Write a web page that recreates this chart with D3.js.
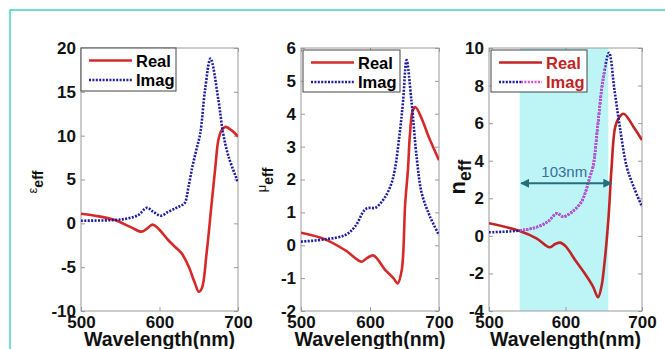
<!DOCTYPE html>
<html>
<head>
<meta charset="utf-8">
<script src="https://d3js.org/d3.v7.min.js"></script>
<style>
body { margin: 0; background: #fff; }
svg text { font-family: "Liberation Sans", Arial, sans-serif; }
</style>
</head>
<body>
<div id="chart"></div>
<script>
// values (wavelength in nm)
var xTicks = [500, 600, 700];

var epsRealNm = [500, 518, 543, 564, 577, 584, 591, 598, 611, 620, 628, 637, 645, 650, 654, 660, 666, 671, 675, 679, 684, 692, 700];
var epsReal   = [1.1, 0.87, 0.38, -0.46, -0.95, -0.6, -0.15, -0.55, -1.9, -2.7, -3.4, -4.9, -6.8, -7.8, -7.4, -3.4, 1.9, 6.3, 9.5, 10.6, 11.0, 10.6, 9.9];
var epsImagNm = [500, 543, 560, 573, 584, 592, 602, 611, 620, 626, 632, 637, 642, 647, 652, 658, 665, 675, 681, 688, 700];
var epsImag   = [0.3, 0.38, 0.57, 0.95, 1.78, 1.32, 0.87, 1.32, 1.7, 1.97, 2.3, 4.2, 6.5, 8.4, 10.3, 15.2, 18.8, 14.1, 10.3, 7.6, 4.7];
var epsTicks  = [-10, -5, 0, 5, 10, 15, 20];

var muRealNm = [500, 535, 564, 588, 595, 605, 622, 634, 640, 646, 651, 655, 658, 662, 666, 675, 685, 700];
var muReal   = [0.38, 0.18, -0.15, -0.5, -0.4, -0.31, -0.75, -1.0, -1.16, -0.75, 1.27, 2.3, 3.4, 4.1, 4.2, 3.85, 3.3, 2.59];
var muImagNm = [500, 535, 564, 578, 593, 600, 608, 622, 631, 636, 643, 648, 653, 660, 668, 675, 687, 700];
var muImag   = [0.11, 0.18, 0.31, 0.56, 1.09, 1.14, 1.14, 1.47, 1.88, 2.3, 3.4, 4.4, 5.63, 4.4, 2.6, 1.58, 0.87, 0.31];
var muTicks  = [-2, -1, 0, 1, 2, 3, 4, 5, 6];

var nRealNm = [500, 540, 562, 579, 586, 593, 600, 614, 625, 636, 642.5, 647, 650, 656, 660, 665, 670, 676, 689, 700];
var nReal   = [0.67, 0.26, -0.13, -0.61, -0.45, -0.36, -0.55, -1.37, -1.99, -2.7, -3.27, -2.7, -1.81, 0.85, 3.5, 5.8, 6.3, 6.5, 5.8, 5.1];
var nImagNm = [500, 540, 562, 577, 589, 597, 609, 621, 627, 632, 636, 642.5, 649, 657, 664, 671, 680, 689, 700];
var nImag   = [0.19, 0.28, 0.46, 0.76, 1.2, 1.02, 1.29, 1.82, 2.44, 3.15, 3.68, 6.0, 8.3, 9.75, 7.76, 5.81, 3.68, 2.62, 1.55];
var nTicks  = [-4, -2, 0, 2, 4, 6, 8, 10];

var bandNm = [540, 656];        // shaded window
var magentaNm = [540, 652];     // part of Imag drawn magenta
var arrowNm = [542, 660];
var arrowVal = 2.8;
var arrowLabel = "103nm";

var legendNames = ["Real", "Imag"];

var W = 665, H = 349;
var TOP = 48, BOTTOM = 311;

var svg = d3.select("#chart").append("svg")
  .attr("width", W).attr("height", H);

// teal frame round the figure
svg.append("path")
  .attr("d", "M10," + H + "V10H" + W)
  .attr("fill", "none")
  .attr("stroke", "#45d3bf")
  .attr("stroke-width", 1.5);

var defs = svg.append("defs");

var panels = [
  { left: 81, right: 238, domain: [-10, 20], ticks: epsTicks, sym: "\u03b5", symSize: 13, symBold: false, effSize: 14,
    labX: 37, labDx: 6, labY: 182,
    real: [epsRealNm, epsReal], imag: [epsImagNm, epsImag],
    legend: { x: 81, y: 48, w: 95, h: 43 }, realColor: "#d42a2a", legendText: "#000" },
  { left: 301, right: 439, domain: [-2, 6], ticks: muTicks, sym: "\u03bc", symSize: 13, symBold: false, effSize: 14,
    labX: 266, labDx: 7, labY: 180,
    real: [muRealNm, muReal], imag: [muImagNm, muImag],
    legend: { x: 303, y: 50, w: 97, h: 42 }, realColor: "#d42a2a", legendText: "#000" },
  { left: 489, right: 642, domain: [-4, 10], ticks: nTicks, sym: "n", symSize: 22, symBold: true, effSize: 17.5,
    labX: 465, labDx: 5.5, labY: 177,
    real: [nRealNm, nReal], imag: [nImagNm, nImag],
    legend: { x: 491, y: 50, w: 96, h: 42 }, realColor: "#c02424", legendText: "#c02424", band: true }
];

var plain = function(d) { return String(d); };

panels.forEach(function(p, i) {
  var x = d3.scaleLinear().domain([500, 700]).range([p.left, p.right]);
  var y = d3.scaleLinear().domain(p.domain).range([BOTTOM, TOP]);
  var g = svg.append("g");

  defs.append("clipPath").attr("id", "plot" + i)
    .append("rect")
    .attr("x", p.left).attr("y", TOP)
    .attr("width", p.right - p.left).attr("height", BOTTOM - TOP);

  if (p.band) {
    g.append("rect")
      .attr("x", x(bandNm[0])).attr("y", TOP)
      .attr("width", x(bandNm[1]) - x(bandNm[0]))
      .attr("height", BOTTOM - TOP)
      .attr("fill", "#bdf5f7");
  }

  // axes, ticks inside on all four sides
  var axB = g.append("g").attr("transform", "translate(0," + BOTTOM + ")")
    .call(d3.axisBottom(x).tickValues(xTicks).tickSize(-4).tickPadding(5).tickFormat(plain));
  var axT = g.append("g").attr("transform", "translate(0," + TOP + ")")
    .call(d3.axisTop(x).tickValues(xTicks).tickSize(-4).tickFormat(""));
  var axL = g.append("g").attr("transform", "translate(" + p.left + ",0)")
    .call(d3.axisLeft(y).tickValues(p.ticks).tickSize(-4).tickPadding(5).tickFormat(plain));
  var axR = g.append("g").attr("transform", "translate(" + p.right + ",0)")
    .call(d3.axisRight(y).tickValues(p.ticks).tickSize(-4).tickFormat(""));
  [axB, axT, axL, axR].forEach(function(a) {
    a.select(".domain").remove();
    a.selectAll("line").attr("stroke", "#9a9a9a");
    a.selectAll("text")
      .attr("font-family", "Liberation Sans, Arial, sans-serif")
      .attr("font-size", 17).attr("font-weight", "bold").attr("fill", "#111");
  });

  g.append("rect")
    .attr("x", p.left).attr("y", TOP)
    .attr("width", p.right - p.left).attr("height", BOTTOM - TOP)
    .attr("fill", "none").attr("stroke", "#9a9a9a").attr("stroke-width", 1);

  var line = d3.line()
    .x(function(d) { return x(d[0]); })
    .y(function(d) { return y(d[1]); })
    .curve(d3.curveCatmullRom.alpha(0.5));

  var realPts = d3.zip(p.real[0], p.real[1]);
  var imagPts = d3.zip(p.imag[0], p.imag[1]);

  var plot = g.append("g").attr("clip-path", "url(#plot" + i + ")");
  plot.append("path").datum(realPts)
    .attr("d", line).attr("fill", "none")
    .attr("stroke", p.realColor).attr("stroke-width", 2.6);
  plot.append("path").datum(imagPts)
    .attr("d", line).attr("fill", "none")
    .attr("stroke", "#1c1c9c").attr("stroke-width", 2.6)
    .attr("stroke-dasharray", "2,1.4");

  if (p.band) {
    defs.append("clipPath").attr("id", "magenta")
      .append("rect")
      .attr("x", x(magentaNm[0])).attr("y", TOP)
      .attr("width", x(magentaNm[1]) - x(magentaNm[0]))
      .attr("height", BOTTOM - TOP);
    plot.append("path").datum(imagPts)
      .attr("clip-path", "url(#magenta)")
      .attr("d", line).attr("fill", "none")
      .attr("stroke", "#d84ad8").attr("stroke-width", 2.6)
      .attr("stroke-dasharray", "2,1.4");
  }

  // legend
  var L = p.legend;
  var lg = g.append("g");
  lg.append("rect")
    .attr("x", L.x).attr("y", L.y).attr("width", L.w).attr("height", L.h)
    .attr("fill", "#fff").attr("stroke", "#444").attr("stroke-width", 1);
  legendNames.forEach(function(name, k) {
    var ly = L.y + 12.5 + k * 19.5;
    if (k === 0) {
      lg.append("line")
        .attr("x1", L.x + 8).attr("x2", L.x + 51)
        .attr("y1", ly).attr("y2", ly)
        .attr("stroke", p.realColor).attr("stroke-width", 2.6);
    } else {
      lg.append("line")
        .attr("x1", L.x + 8).attr("x2", p.band ? L.x + 30 : L.x + 51)
        .attr("y1", ly).attr("y2", ly)
        .attr("stroke", "#1c1c9c").attr("stroke-width", 2.6)
        .attr("stroke-dasharray", "2,1.4");
      if (p.band) {
        lg.append("line")
          .attr("x1", L.x + 30).attr("x2", L.x + 51)
          .attr("y1", ly).attr("y2", ly)
          .attr("stroke", "#d84ad8").attr("stroke-width", 2.6)
          .attr("stroke-dasharray", "2,1.4");
      }
    }
    lg.append("text")
      .attr("x", L.x + 55).attr("y", ly + 6)
      .attr("font-size", 16.5).attr("font-weight", "bold")
      .attr("fill", p.legendText)
      .text(name);
  });

  // y label: symbol with "eff" subscript
  var yl = g.append("text")
    .attr("transform", "translate(" + p.labX + "," + p.labY + ") rotate(-90)")
    .attr("text-anchor", "middle")
    .attr("fill", "#111");
  yl.append("tspan")
    .attr("font-size", p.symSize)
    .attr("font-weight", p.symBold ? "bold" : "normal")
    .text(p.sym);
  yl.append("tspan")
    .attr("dy", p.labDx)
    .attr("font-size", p.effSize).attr("font-weight", "bold")
    .text("eff");

  // x label
  g.append("text")
    .attr("x", (p.left + p.right) / 2).attr("y", 346)
    .attr("text-anchor", "middle")
    .attr("font-size", 19.5).attr("font-weight", "bold").attr("fill", "#111")
    .text("Wavelength(nm)");

  if (p.band) {
    defs.append("marker").attr("id", "head")
      .attr("viewBox", "0 0 10 10").attr("refX", 9).attr("refY", 5)
      .attr("markerWidth", 5).attr("markerHeight", 5)
      .attr("orient", "auto-start-reverse")
      .append("path").attr("d", "M0,0L10,5L0,10z").attr("fill", "#246f7c");
    g.append("line")
      .attr("x1", x(arrowNm[0])).attr("x2", x(arrowNm[1]))
      .attr("y1", y(arrowVal)).attr("y2", y(arrowVal))
      .attr("stroke", "#246f7c").attr("stroke-width", 1.8)
      .attr("marker-start", "url(#head)").attr("marker-end", "url(#head)");
    g.append("text")
      .attr("x", x((arrowNm[0] + arrowNm[1]) / 2) - 2)
      .attr("y", y(arrowVal) - 6)
      .attr("text-anchor", "middle")
      .attr("font-size", 15).attr("fill", "#3b6e98")
      .text(arrowLabel);
  }
});
</script>
</body>
</html>
